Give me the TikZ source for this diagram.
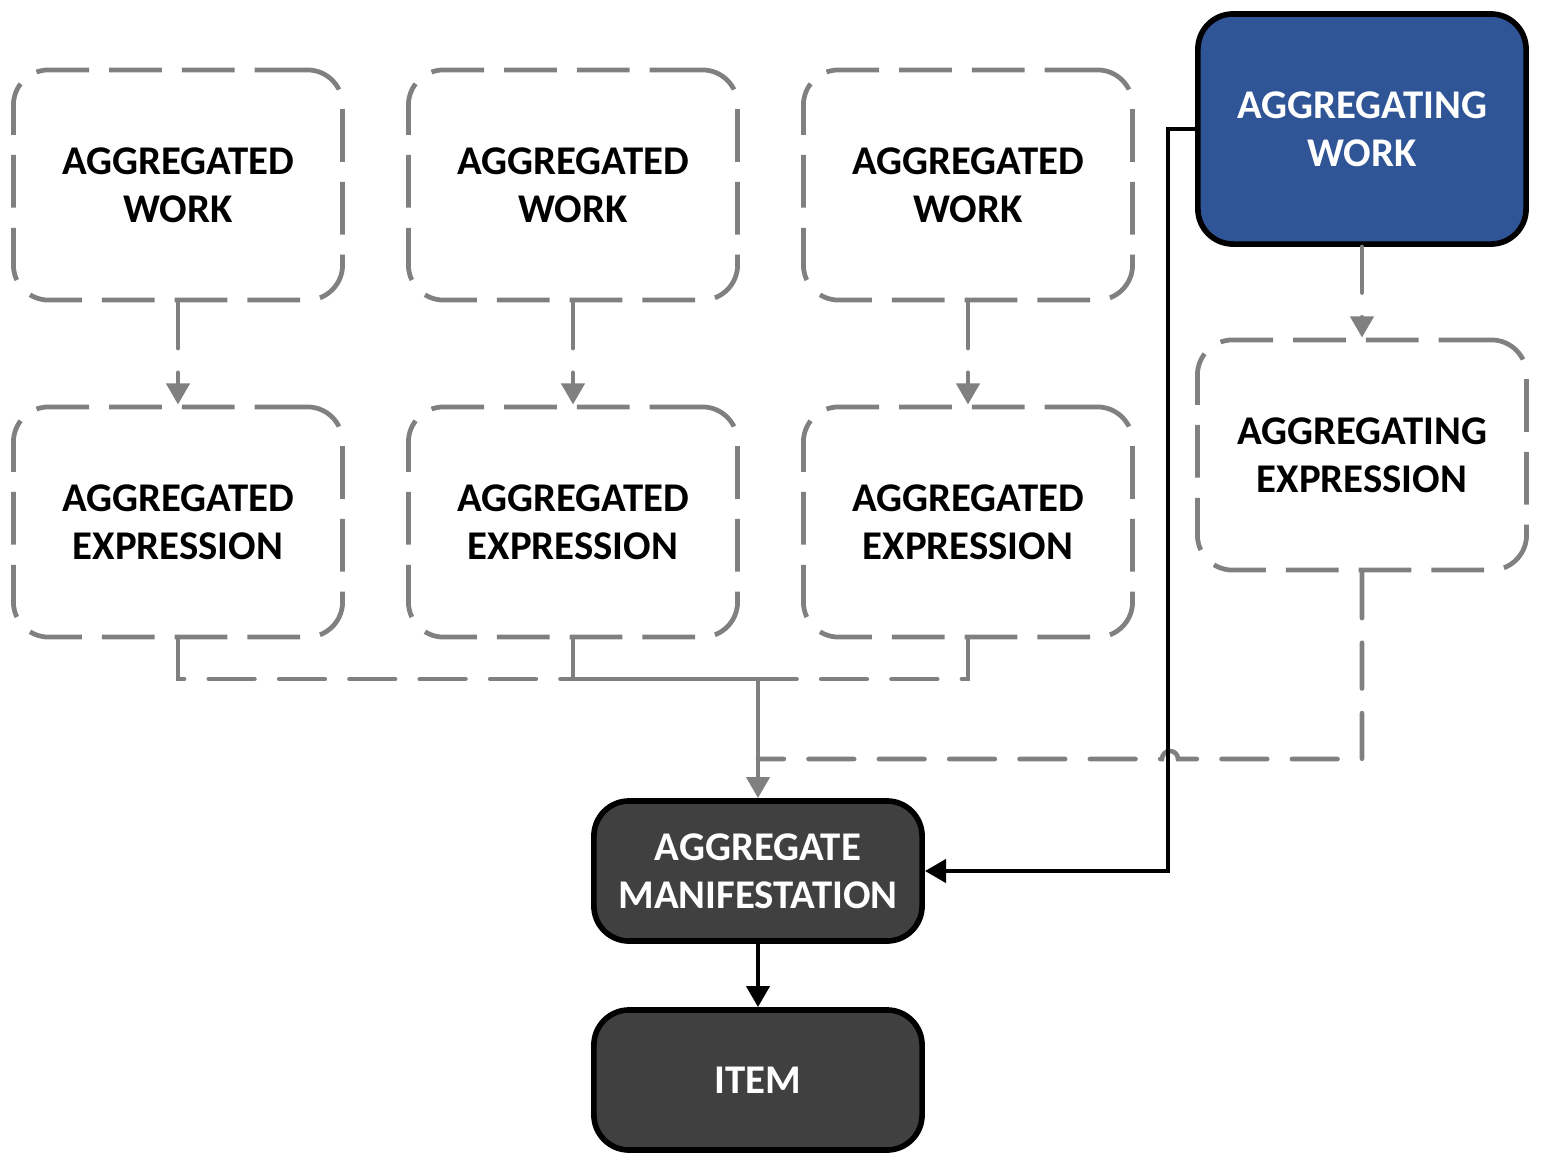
\documentclass[tikz,border=0pt]{standalone}
\usepackage{fontspec}
\setmainfont{Carlito}
\usetikzlibrary{arrows.meta,positioning}
\definecolor{aggblue}{HTML}{2F5597}
\definecolor{aggdark}{HTML}{404040}
\definecolor{agggray}{HTML}{808080}

\begin{document}
\begin{tikzpicture}[x=0.01cm,y=-0.01cm,
    every node/.style={font=\fontsize{11.6}{13.7}\selectfont\bfseries,align=center},
    dashbox/.style={draw=agggray,line width=1.35pt,rounded corners=10pt,dash pattern=on 15pt off 5.7pt,
      minimum width=3.29cm,minimum height=2.30cm},
    solidbox/.style={draw=black,line width=1.6pt,rounded corners=10pt,text=white,
      minimum width=3.28cm,minimum height=1.40cm},
    conn/.style={draw=agggray,line width=1.3pt,line cap=round,dash pattern=on 13pt off 7pt},
    graytip/.style={-{Triangle[width=6.5pt,length=6pt]}},
    link/.style={draw=black,line width=1.3pt,-{Triangle[width=6.5pt,length=6pt]}}]
  \useasboundingbox (0,0) rectangle (1541,1166);

  \foreach \i/\x in {1/178,2/573,3/968} {
    \node[dashbox] (aw\i) at (\x,185) {AGGREGATED\\WORK};
    \node[dashbox] (ae\i) at (\x,522) {AGGREGATED\\EXPRESSION};
    \draw[conn,graytip] (aw\i) -- (ae\i);
  }
  \node[solidbox,fill=aggblue,minimum height=2.30cm] (gw) at (1362,129) {AGGREGATING\\WORK};
  \node[dashbox] (ge) at (1362,455) {AGGREGATING\\EXPRESSION};
  \draw[conn,graytip] (gw) -- (ge);

  \node[solidbox,fill=aggdark] (man) at (758,871) {AGGREGATE\\MANIFESTATION};
  \node[solidbox,fill=aggdark] (item) at (758,1080) {ITEM};

  % joins above the manifestation
  \coordinate (join) at (758,679);
  \coordinate (join2) at (758,759);
  \foreach \i in {1,2,3}
    \draw[conn] (ae\i.south) |- (join);
  \draw[conn] (ge.south) |- (1178,759) arc[start angle=0,end angle=180,radius=0.08cm] -- (join2);
  \draw[draw=agggray,line width=1.3pt,graytip] (join) -- (man);

  \draw[link] (gw.west) -- ++(-27,0) |- (man.east);
  \draw[link] (man) -- (item);
\end{tikzpicture}
\end{document}
